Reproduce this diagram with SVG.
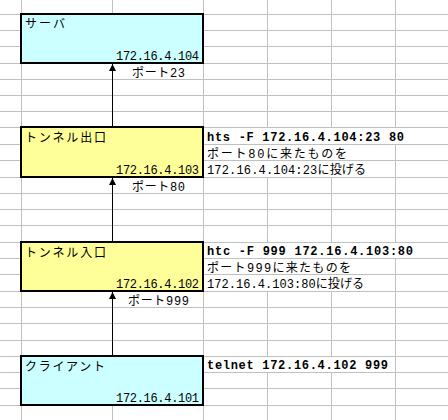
<svg xmlns="http://www.w3.org/2000/svg" width="448" height="420" viewBox="0 0 448 420">
<defs>
<style>
.grid{stroke:#c0c0c0;stroke-width:1;fill:none}
.box{stroke:#000;stroke-width:2}
.cyan{fill:#ccffff}
.yellow{fill:#ffff99}
text{font-family:"Liberation Mono","Noto Sans CJK JP",monospace;font-size:12px;fill:#000}
.b{font-weight:bold}
.conn{stroke:#000;stroke-width:1;fill:none}
</style>
<marker id="ah" markerUnits="userSpaceOnUse" markerWidth="8" markerHeight="8" refX="7" refY="3.5" orient="auto">
<path d="M0,0 L7,3.5 L0,7 z" fill="#000"/>
</marker>
</defs>
<rect width="448" height="420" fill="#fff"/>
<g id="grid" class="grid">
<path d="M0,14.5H448M0,30.5H448M0,46.5H448M0,63.5H448M0,79.5H448M0,95.5H448M0,111.5H448M0,127.5H448M0,144.5H448M0,160.5H448M0,177.5H448M0,193.5H448M0,209.5H448M0,225.5H448M0,242.5H448M0,258.5H448M0,274.5H448M0,291.5H448M0,307.5H448M0,323.5H448M0,340.5H448M0,356.5H448M0,372.5H448M0,388.5H448M0,405.5H448"/>
<path d="M21.5,0V420M112.5,0V420M203.5,0V420"/>
<path d="M267.5,0V127M267.5,177V242M267.5,291V356M267.5,372V420M331.5,0V127M331.5,177V242M331.5,291V356M331.5,372V420M395.5,0V127M395.5,144V242M395.5,258V420"/>
</g>
<g id="connectors">
<line class="conn" x1="112.5" y1="127" x2="112.5" y2="64" marker-end="url(#ah)"/>
<line class="conn" x1="112.5" y1="242" x2="112.5" y2="178" marker-end="url(#ah)"/>
<line class="conn" x1="112.5" y1="356" x2="112.5" y2="292" marker-end="url(#ah)"/>
<text x="132" y="76.5" textLength="53">ポート23</text>
<text x="132" y="190.5" textLength="53">ポート80</text>
<text x="128" y="305" textLength="61">ポート999</text>
</g>
<g id="server">
<rect class="box cyan" x="21" y="14" width="182" height="49"/>
<text x="25" y="28" textLength="40">サーバ</text>
<text x="116" y="59.5" textLength="83">172.16.4.104</text>
</g>
<g id="tunnel-exit">
<rect class="box yellow" x="21" y="127" width="182" height="50"/>
<text x="25" y="141.5" textLength="81">トンネル出口</text>
<text x="116" y="174" textLength="83">172.16.4.103</text>
</g>
<g id="tunnel-exit-note">
<text class="b" x="207" y="141" textLength="197">hts -F 172.16.4.104:23 80</text>
<text x="207" y="157.5" textLength="140">ポート80に来たものを</text>
<text x="207" y="174" textLength="159">172.16.4.104:23に投げる</text>
</g>
<g id="tunnel-entrance">
<rect class="box yellow" x="21" y="242" width="182" height="49"/>
<text x="25" y="256.5" textLength="81">トンネル入口</text>
<text x="116" y="288" textLength="83">172.16.4.102</text>
</g>
<g id="tunnel-entrance-note">
<text class="b" x="207" y="255" textLength="206">htc -F 999 172.16.4.103:80</text>
<text x="207" y="271.5" textLength="144">ポート999に来たものを</text>
<text x="207" y="288" textLength="157">172.16.4.103:80に投げる</text>
</g>
<g id="client">
<rect class="box cyan" x="21" y="356" width="182" height="49"/>
<text x="25" y="370.5" textLength="80">クライアント</text>
<text x="116" y="401.5" textLength="83">172.16.4.101</text>
</g>
<g id="client-note">
<text class="b" x="207" y="369" textLength="181">telnet 172.16.4.102 999</text>
</g>
</svg>
